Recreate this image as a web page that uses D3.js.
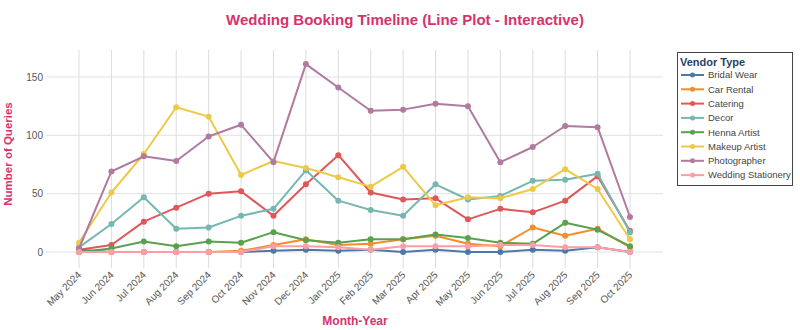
<!DOCTYPE html>
<html><head><meta charset="utf-8">
<script src="https://cdn.jsdelivr.net/npm/d3@7"></script>
<style>body{margin:0;background:#fff}svg{display:block}</style>
</head><body><svg id="c" width="800" height="330"></svg>
<script>
const months = ["May 2024","Jun 2024","Jul 2024","Aug 2024","Sep 2024","Oct 2024","Nov 2024","Dec 2024","Jan 2025","Feb 2025","Mar 2025","Apr 2025","May 2025","Jun 2025","Jul 2025","Aug 2025","Sep 2025","Oct 2025"];
const vendorTypes = ["Bridal Wear","Car Rental","Catering","Decor","Henna Artist","Makeup Artist","Photographer","Wedding Stationery"];
const bridalWear   = [2,0,0,0,0,0,1,2,1,2,0,2,0,0,2,1,4,0];
const carRental    = [0,0,0,0,0,1,6,11,6,7,11,14,7,5,21,14,20,4];
const catering     = [2,6,26,38,50,52,31,58,83,51,45,46,28,37,34,44,65,18];
const decor        = [4,24,47,20,21,31,37,70,44,36,31,58,45,48,61,62,67,17];
const hennaArtist  = [0,3,9,5,9,8,17,10,8,11,11,15,12,8,7,25,19,5];
const makeupArtist = [8,51,84,124,116,66,78,72,64,56,73,40,47,46,54,71,54,11];
const photographer = [3,69,82,78,99,109,77,161,141,121,122,127,125,77,90,108,107,30];
const stationery   = [0,0,0,0,0,0,5,5,4,2,5,5,5,6,6,4,4,0];
const seriesValues = [bridalWear,carRental,catering,decor,hennaArtist,makeupArtist,photographer,stationery];
const colors = ["#4e79a7","#f28e2b","#e15759","#76b7b2","#59a14f","#edc948","#b07aa1","#ff9da7"];
const yTicks = [0,50,100,150];

const svg = d3.select("#c");
const L = 46, R = 663, T = 50, B = 268;
const x = d3.scalePoint().domain(months).range([79, 630]);
const y = d3.scaleLinear().domain([-13.7, 173.1]).range([B, T]);

// grid
svg.append("g").selectAll("line").data(months).join("line")
  .attr("x1", d => x(d)).attr("x2", d => x(d)).attr("y1", T).attr("y2", B)
  .attr("stroke", "#dcdcdc").attr("stroke-width", 1);
svg.append("g").selectAll("line").data(yTicks).join("line")
  .attr("x1", L).attr("x2", R).attr("y1", d => y(d)).attr("y2", d => y(d))
  .attr("stroke", "#e2e2e2").attr("stroke-width", 1);

// y axis labels
const yAxis = d3.axisLeft(y).tickValues(yTicks).tickSize(0).tickPadding(0);
const gy = svg.append("g").attr("transform", `translate(${L - 3},0)`).call(yAxis);
gy.select(".domain").remove();
gy.selectAll("text").attr("font-family", "Liberation Sans, Arial, sans-serif")
  .attr("font-size", 10).attr("fill", "#555");

// x axis labels
const xAxis = d3.axisBottom(x).tickSize(0).tickPadding(0);
const gx = svg.append("g").attr("transform", `translate(0,${B})`).call(xAxis);
gx.select(".domain").remove();
gx.selectAll("text").attr("font-family", "Liberation Sans, Arial, sans-serif")
  .attr("font-size", 10).attr("fill", "#555")
  .attr("text-anchor", "end").attr("dy", "0.35em").attr("y", 0)
  .attr("transform", "translate(0,5) rotate(-45)");

// lines
const line = d3.line().x((d, i) => x(months[i])).y(d => y(d));
vendorTypes.forEach((v, k) => {
  const g = svg.append("g");
  g.append("path").datum(seriesValues[k]).attr("d", line)
    .attr("fill", "none").attr("stroke", colors[k]).attr("stroke-width", 2)
    .attr("stroke-linejoin", "round");
  g.selectAll("circle").data(seriesValues[k]).join("circle")
    .attr("cx", (d, i) => x(months[i])).attr("cy", d => y(d)).attr("r", 3)
    .attr("fill", colors[k]);
});

// titles
svg.append("text").attr("x", 405).attr("y", 25).attr("text-anchor", "middle")
  .attr("font-family", "Liberation Sans, Arial, sans-serif").attr("font-weight", "bold")
  .attr("font-size", 15).attr("fill", "#d6336c")
  .text("Wedding Booking Timeline (Line Plot - Interactive)");
svg.append("text").attr("x", 355).attr("y", 325).attr("text-anchor", "middle")
  .attr("font-family", "Liberation Sans, Arial, sans-serif").attr("font-weight", "bold")
  .attr("font-size", 12).attr("fill", "#d6336c").text("Month-Year");
svg.append("text").attr("transform", "translate(12,154) rotate(-90)").attr("text-anchor", "middle")
  .attr("font-family", "Liberation Sans, Arial, sans-serif").attr("font-weight", "bold")
  .attr("font-size", 11.5).attr("fill", "#d6336c").text("Number of Queries");

// legend
const lg = svg.append("g");
lg.append("rect").attr("x", 677.5).attr("y", 52.5).attr("width", 115).attr("height", 133)
  .attr("fill", "#fff").attr("stroke", "#444").attr("stroke-width", 1);
lg.append("text").attr("x", 680).attr("y", 66).attr("font-family", "Liberation Sans, Arial, sans-serif")
  .attr("font-weight", "bold").attr("font-size", 11).attr("fill", "#2a3f5f").text("Vendor Type");
vendorTypes.forEach((v, k) => {
  const yy = 75 + k * 14.3;
  lg.append("line").attr("x1", 681).attr("x2", 704).attr("y1", yy).attr("y2", yy)
    .attr("stroke", colors[k]).attr("stroke-width", 2);
  lg.append("circle").attr("cx", 692.5).attr("cy", yy).attr("r", 2.5).attr("fill", colors[k]);
  lg.append("text").attr("x", 708).attr("y", yy).attr("dy", "0.35em")
    .attr("font-family", "Liberation Sans, Arial, sans-serif").attr("font-size", 9.5)
    .attr("fill", "#444").text(v);
});
</script></body></html>
